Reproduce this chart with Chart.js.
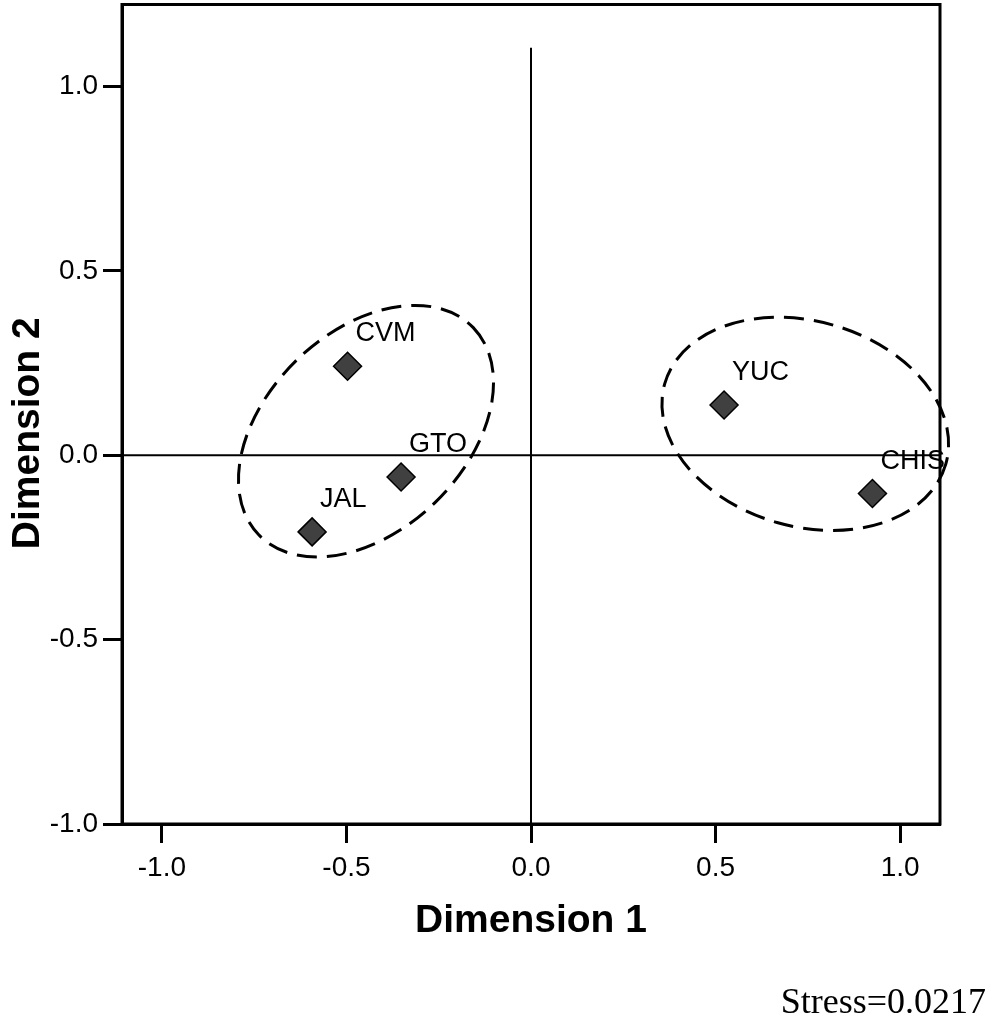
<!DOCTYPE html>
<html>
<head>
<meta charset="utf-8">
<script src="https://cdn.jsdelivr.net/npm/chart.js@4"></script>
<style>
  html, body { margin: 0; padding: 0; background: #fff; overflow: hidden; }
  /* canvas is pulled up a little so the plot box starts near the top edge */
  #wrap { position: absolute; left: 0; top: -11px; width: 990px; height: 1030px; }
</style>
</head>
<body>
<div id="wrap"><canvas id="mds"></canvas></div>
<script>
// MDS solution - object points
const labels = ["CVM", "GTO", "JAL", "YUC", "CHIS"];
const dim1 = [-0.497, -0.352, -0.593, 0.523, 0.925];
const dim2 = [0.241, -0.059, -0.208, 0.136, -0.104];

const xTicks = [-1.0, -0.5, 0.0, 0.5, 1.0];
const yTicks = [-1.0, -0.5, 0.0, 0.5, 1.0];
const xRange = [-1.108, 1.108];
const yRange = [-1.0, 1.222];
const vLineTop = 1.105;

// dashed cluster ellipses (data units): centre, semi axes, tilt in degrees
const clusterX = [-0.447, 0.743];
const clusterY = [0.065, 0.085];
const clusterA = [0.404, 0.396];
const clusterB = [0.269, 0.278];
const clusterTilt = [44, -16];

const stressText = "Stress=0.0217";

const SANS = '"Liberation Sans", Arial, sans-serif';
const SERIF = '"Liberation Serif", "Times New Roman", serif';
const SHIFT = 11; // same as the css offset of #wrap

const points = labels.map((l, i) => ({ x: dim1[i], y: dim2[i] }));

// labels, ellipses, box, y title, stress note
const decor = {
  id: "decor",
  afterDatasetsDraw(chart) {
    const ctx = chart.ctx;
    const xs = chart.scales.x, ys = chart.scales.y;
    const pxPerUnit = xs.getPixelForValue(1) - xs.getPixelForValue(0);

    ctx.save();
    ctx.strokeStyle = "#000";
    ctx.lineWidth = 3;
    ctx.setLineDash([20, 10]);
    clusterX.forEach((cx, i) => {
      ctx.beginPath();
      ctx.ellipse(xs.getPixelForValue(cx), ys.getPixelForValue(clusterY[i]),
        clusterA[i] * pxPerUnit, clusterB[i] * pxPerUnit,
        -clusterTilt[i] * Math.PI / 180, 0, Math.PI * 2);
      ctx.stroke();
    });
    ctx.setLineDash([]);

    // point labels
    ctx.fillStyle = "#000";
    ctx.font = "27px " + SANS;
    ctx.textAlign = "left";
    ctx.textBaseline = "alphabetic";
    labels.forEach((l, i) => {
      ctx.fillText(l, xs.getPixelForValue(dim1[i]) + 8, ys.getPixelForValue(dim2[i]) - 25);
    });
    ctx.restore();
  },
  afterDraw(chart) {
    const ctx = chart.ctx;
    const a = chart.chartArea;
    ctx.save();
    ctx.strokeStyle = "#000";
    ctx.lineWidth = 3;
    ctx.strokeRect(a.left, a.top, a.right - a.left, a.bottom - a.top);

    // y axis title
    ctx.fillStyle = "#000";
    ctx.font = "bold 39px " + SANS;
    ctx.textAlign = "center";
    ctx.textBaseline = "middle";
    ctx.translate(28, (a.top + a.bottom) / 2 + 19);
    ctx.rotate(-Math.PI / 2);
    ctx.fillText("Dimension 2", 0, 0);
    ctx.restore();

    ctx.save();
    ctx.fillStyle = "#000";
    ctx.font = "36px " + SERIF;
    ctx.textAlign = "right";
    ctx.textBaseline = "alphabetic";
    ctx.fillText(stressText, 986, 1013 + SHIFT);
    ctx.restore();
  }
};

new Chart(document.getElementById("mds"), {
  type: "scatter",
  data: {
    datasets: [
      {
        label: "Objects",
        data: points,
        pointStyle: "rectRot",
        pointRadius: 14,
        pointHoverRadius: 14,
        backgroundColor: "#404040",
        borderColor: "#000",
        borderWidth: 1.5,
        order: 0
      },
      {
        label: "h0",
        data: [{ x: xRange[0], y: 0 }, { x: xRange[1], y: 0 }],
        showLine: true,
        pointRadius: 0,
        borderColor: "#000",
        borderWidth: 2,
        order: 1
      },
      {
        label: "v0",
        data: [{ x: 0, y: yRange[0] }, { x: 0, y: vLineTop }],
        showLine: true,
        pointRadius: 0,
        borderColor: "#000",
        borderWidth: 2,
        order: 1
      }
    ]
  },
  options: {
    responsive: true,
    maintainAspectRatio: false,
    animation: false,
    events: [],
    layout: { padding: { top: 4, right: 50, left: 0, bottom: 0 } },
    plugins: { legend: { display: false }, tooltip: { enabled: false } },
    scales: {
      x: {
        type: "linear",
        min: xRange[0],
        max: xRange[1],
        afterBuildTicks: (axis) => { axis.ticks = xTicks.map(v => ({ value: v })); },
        afterFit: (axis) => { axis.height = 195; axis.paddingLeft = 0; axis.paddingRight = 0; },
        grid: { drawOnChartArea: false, tickLength: 19, tickWidth: 3, tickColor: "#000", color: "#000" },
        border: { display: true, color: "#000", width: 3 },
        ticks: {
          autoSkip: false, maxRotation: 0, padding: 8, color: "#000",
          font: { family: SANS, size: 28 },
          callback: (v) => Number(v).toFixed(1)
        },
        title: {
          display: true, text: "Dimension 1", color: "#000",
          font: { family: SANS, size: 39, weight: "bold" },
          padding: { top: 0, bottom: 74 }
        }
      },
      y: {
        type: "linear",
        min: yRange[0],
        max: yRange[1],
        afterBuildTicks: (axis) => { axis.ticks = yTicks.map(v => ({ value: v })); },
        afterFit: (axis) => { axis.width = 122; axis.paddingTop = 0; axis.paddingBottom = 0; },
        grid: { drawOnChartArea: false, tickLength: 19, tickWidth: 3, tickColor: "#000", color: "#000" },
        border: { display: true, color: "#000", width: 3 },
        ticks: {
          autoSkip: false, padding: 5, color: "#000",
          font: { family: SANS, size: 28 },
          callback: (v) => Number(v).toFixed(1)
        }
      }
    }
  },
  plugins: [decor]
});
</script>
</body>
</html>
